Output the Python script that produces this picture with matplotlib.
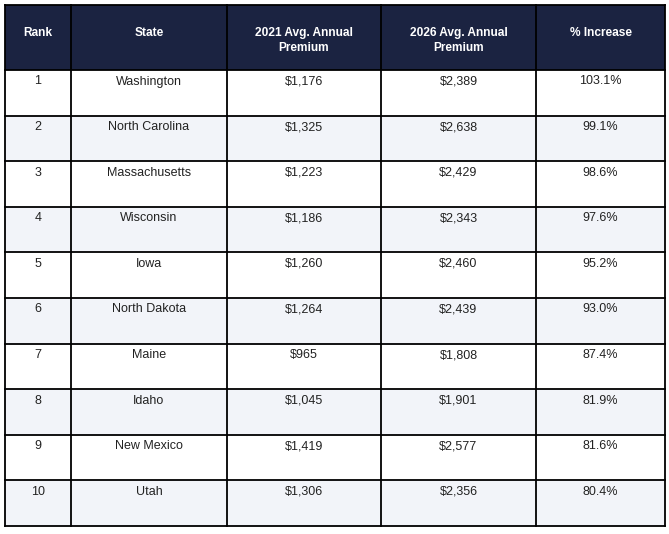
import matplotlib.pyplot as plt
from matplotlib.patches import Rectangle

plt.rcParams['font.family'] = ['Liberation Sans', 'DejaVu Sans']

columns = ["Rank", "State", "2021 Avg. Annual\nPremium", "2026 Avg. Annual\nPremium", "% Increase"]
ranks = ["1", "2", "3", "4", "5", "6", "7", "8", "9", "10"]
states = ["Washington", "North Carolina", "Massachusetts", "Wisconsin", "Iowa",
          "North Dakota", "Maine", "Idaho", "New Mexico", "Utah"]
premium_2021 = ["$1,176", "$1,325", "$1,223", "$1,186", "$1,260",
                "$1,264", "$965", "$1,045", "$1,419", "$1,306"]
premium_2026 = ["$2,389", "$2,638", "$2,429", "$2,343", "$2,460",
                "$2,439", "$1,808", "$1,901", "$2,577", "$2,356"]
pct_increase = ["103.1%", "99.1%", "98.6%", "97.6%", "95.2%",
                "93.0%", "87.4%", "81.9%", "81.6%", "80.4%"]

# layout in pixels
col_edges = [5, 71, 227, 381, 536, 665]
top, header_bottom, bottom = 5, 70, 526
header_color = '#1b2341'
stripe_color = '#f2f4f9'

rows = list(zip(ranks, states, premium_2021, premium_2026, pct_increase))
row_h = (bottom - header_bottom) / len(rows)

fig = plt.figure(figsize=(6.69, 5.34), dpi=100)
ax = fig.add_axes([0, 0, 1, 1])
ax.set_xlim(0, 669)
ax.set_ylim(534, 0)
ax.axis('off')

# header
ax.add_patch(Rectangle((col_edges[0], top), col_edges[-1] - col_edges[0], header_bottom - top,
                       facecolor=header_color, edgecolor='none'))
for i, name in enumerate(columns):
    cx = (col_edges[i] + col_edges[i + 1]) / 2
    ax.text(cx, 27, name, color='white', fontweight='bold',
            fontsize=8.6, ha='center', va='top', linespacing=1.35)

# body
for r, row in enumerate(rows):
    y0 = header_bottom + r * row_h
    fc = stripe_color if r % 2 == 1 else 'white'
    ax.add_patch(Rectangle((col_edges[0], y0), col_edges[-1] - col_edges[0], row_h,
                           facecolor=fc, edgecolor='none'))
    for i, val in enumerate(row):
        cx = (col_edges[i] + col_edges[i + 1]) / 2
        ax.text(cx, y0 + 11.5, val, color='#222222', fontsize=9, ha='center', va='center')

# grid lines
lw = 1.3
for x in col_edges:
    ax.plot([x, x], [top, bottom], color='black', lw=lw, solid_capstyle='projecting')
ax.plot([col_edges[0], col_edges[-1]], [top, top], color='black', lw=lw)
for r in range(len(rows) + 1):
    y = header_bottom + r * row_h
    ax.plot([col_edges[0], col_edges[-1]], [y, y], color='black', lw=lw)

fig.savefig('out.png', dpi=100)
